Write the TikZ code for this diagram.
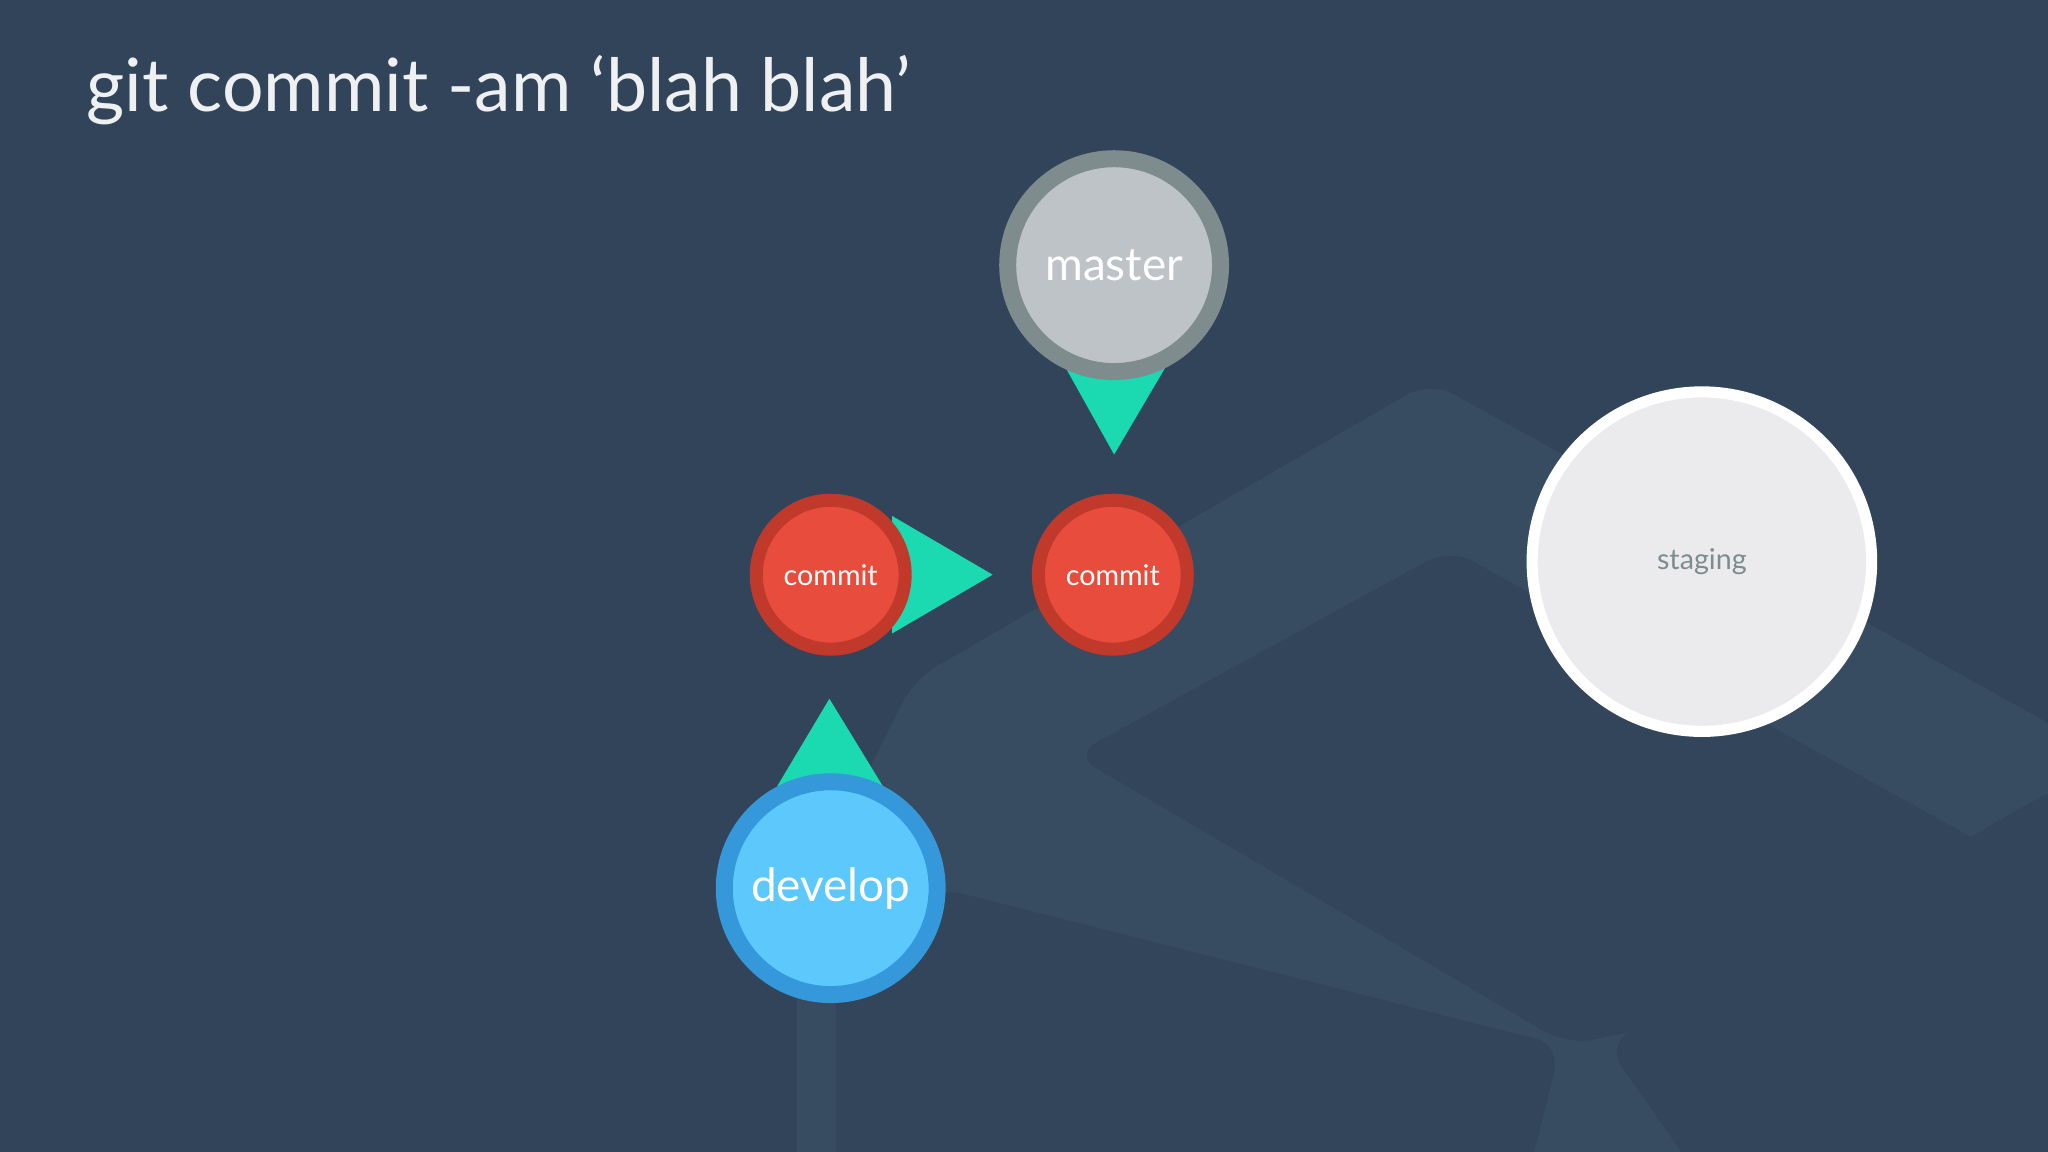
\documentclass[tikz,border=0pt]{standalone}
\usepackage{fontspec}
\setmainfont{Lato}
\definecolor{bg}{HTML}{324459}
\definecolor{plate}{HTML}{374B61}
\definecolor{plated}{HTML}{32455A}
\definecolor{teal}{HTML}{1BD9B0}
\definecolor{cred}{HTML}{E74C3C}
\definecolor{credd}{HTML}{C0392B}
\definecolor{mgray}{HTML}{BDC3C7}
\definecolor{mgrayd}{HTML}{7F8C8D}
\definecolor{dblue}{HTML}{5CC8FC}
\definecolor{dblued}{HTML}{3498DB}
\definecolor{stg}{HTML}{EBEBEE}
\tikzset{
  commitnode/.style={circle,fill=cred,draw=credd,line width=0.2cm,minimum size=2.28cm,text=white,font=\fontsize{12.5}{14}\selectfont},
  bignode/.style={circle,line width=0.26cm,minimum size=3.26cm,text=white,font=\fontsize{20}{24}\selectfont},
  tri/.style={fill=teal}
}
\begin{document}
\begin{tikzpicture}[x=0.02cm,y=-0.02cm]
\fill[bg] (0,0) rectangle (1568,882);
\useasboundingbox (0,0) rectangle (1568,882);
% faint background plates
\fill[plate,rounded corners=0.4cm] (1095,292) -- (1580,560) -- (1580,900) -- (610,900) -- (610,700) -- (700,520) -- cycle;
\fill[plated,rounded corners=0.4cm] (822,578) -- (1110,420) -- (1580,680) -- (1580,720) -- (1200,800) -- cycle;
\fill[plated,rounded corners=0.4cm] (1230,800) -- (1580,600) -- (1580,900) -- (1300,900) -- cycle;
\fill[plated,rounded corners=0.4cm] (640,700) -- (720,680) -- (1195,800) -- (1170,900) -- (640,900) -- cycle;
\node[anchor=base west,text=white!92!bg,font=\fontsize{32}{38}\selectfont,inner sep=0] (title) at (66,85) {git commit -am ‘blah blah’};
% triangles
\coordinate (tm) at (853,348);
\coordinate (tc) at (760,440);
\coordinate (td) at (635,535);
\fill[tri] (815,280) -- (893,280) -- (tm) -- cycle;
\fill[tri] (683,395) -- (683,485) -- (tc) -- cycle;
\fill[tri] (595,602) -- (676,602) -- (td) -- cycle;
% nodes
\node[bignode,fill=mgray,draw=mgrayd] (master) at (853,203) {master};
\node[commitnode] (c1) at (636,440) {commit};
\node[commitnode] (c2) at (852,440) {commit};
\node[bignode,fill=dblue,draw=dblued] (develop) at (636,680) {develop};
\node[circle,fill=stg,draw=white,line width=0.17cm,minimum size=5.2cm,text=mgrayd,font=\fontsize{12.5}{14}\selectfont] (staging) at (1303,430) {staging};
\end{tikzpicture}
\end{document}
